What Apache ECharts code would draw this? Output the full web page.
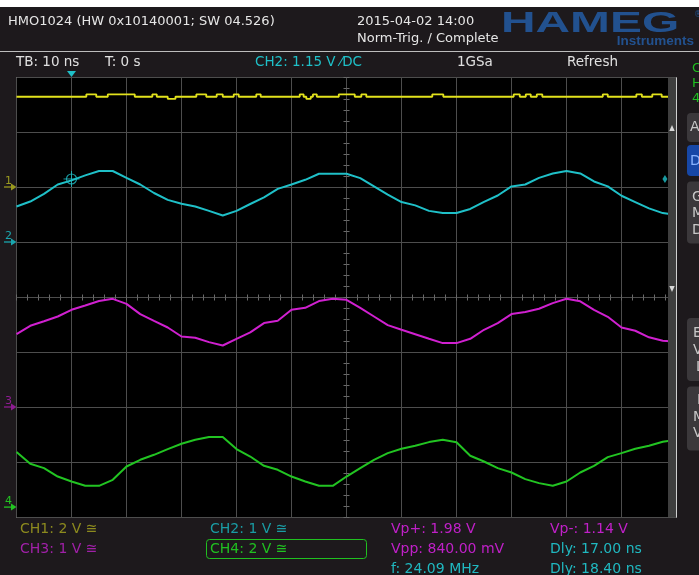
<!DOCTYPE html>
<html><head><meta charset="utf-8">
<script src="https://cdn.jsdelivr.net/npm/echarts@6.0.0/dist/echarts.min.js"></script>
<style>html,body{margin:0;padding:0;background:#1d191c;}#c{width:699px;height:575px;}</style>
</head><body><div id="c"></div><script>
// ---- data (x in ns, 10 ns/div; y in screen divisions) ----
const timeNs = [-60,-57.5,-55,-52.5,-50,-47.5,-45,-42.5,-40,-37.5,-35,-32.5,-30,-27.5,-25,-22.5,-20,-17.5,-15,-12.5,-10,-7.5,-5,-2.5,0,2.5,5,7.5,10,12.5,15,17.5,20,22.5,25,27.5,30,32.5,35,37.5,40,42.5,45,47.5,50,52.5,55,57.5,60];
const ch2 = [1.655,1.745,1.885,2.055,2.13,2.22,2.30,2.30,2.175,2.055,1.90,1.775,1.705,1.655,1.575,1.49,1.575,1.70,1.82,1.975,2.055,2.14,2.25,2.25,2.25,2.17,2.02,1.87,1.735,1.675,1.575,1.535,1.535,1.61,1.74,1.855,2.02,2.055,2.175,2.255,2.30,2.255,2.11,2.02,1.85,1.735,1.62,1.535,1.50];
const ch3 = [-0.665,-0.515,-0.433,-0.345,-0.224,-0.145,-0.065,-0.024,-0.115,-0.302,-0.424,-0.545,-0.709,-0.733,-0.811,-0.873,-0.751,-0.633,-0.465,-0.424,-0.224,-0.187,-0.065,-0.024,-0.042,-0.187,-0.345,-0.502,-0.587,-0.669,-0.751,-0.829,-0.829,-0.751,-0.587,-0.465,-0.302,-0.265,-0.205,-0.102,-0.024,-0.069,-0.224,-0.351,-0.545,-0.605,-0.724,-0.787,-0.805];
const ch4 = [-2.811,-3.024,-3.102,-3.255,-3.345,-3.424,-3.424,-3.315,-3.073,-2.951,-2.860,-2.756,-2.660,-2.587,-2.538,-2.538,-2.756,-2.891,-3.060,-3.133,-3.255,-3.345,-3.424,-3.424,-3.255,-3.102,-2.951,-2.829,-2.751,-2.696,-2.629,-2.587,-2.633,-2.878,-2.982,-3.102,-3.182,-3.302,-3.375,-3.424,-3.345,-3.182,-3.060,-2.902,-2.829,-2.751,-2.696,-2.624,-2.587];
// CH1 is a nearly flat trace: level changes at these times
const ch1T = [-60,-47.3,-45.5,-43.4,-38.5,-35.3,-34.5,-32.5,-31.1,-27.3,-25.5,-23.6,-22.5,-20.5,-19.6,-16.4,-15.6,-8.5,-7.8,-7.3,-6.5,-6.1,-5.4,-1.4,1.5,2.7,3.6,15.6,17.6,30.4,31.5,32.6,33.5,34.6,35.6,46.6,47.5,52.7,53.7,55.6,57.3,60];
const ch1V = [3.65,3.695,3.65,3.695,3.65,3.695,3.65,3.61,3.65,3.695,3.65,3.695,3.65,3.695,3.65,3.695,3.65,3.695,3.65,3.61,3.65,3.695,3.65,3.695,3.65,3.695,3.65,3.695,3.65,3.695,3.65,3.695,3.65,3.695,3.65,3.695,3.65,3.695,3.65,3.695,3.65,3.65];
const channelOffsets = [2, 1, -2, -3.82];
const channelNames = ['1','2','3','4'];
const cursorT = -50, cursorV = 2.155, rightMarkerT = 57.9, triggerT = -50;

const headerTexts = ['HMO1024 (HW 0x10140001; SW 04.526)', '2015-04-02 14:00', 'Norm-Trig. / Complete'];
const statusTexts = ['TB: 10 ns', 'T: 0 s', 'CH2: 1.15 V \u2044DC', '1GSa', 'Refresh'];
const chanTexts = ['CH1: 2 V \u2245', 'CH2: 1 V \u2245', 'CH3: 1 V \u2245', 'CH4: 2 V \u2245'];
const measTexts = ['Vp+: 1.98 V', 'Vp-: 1.14 V', 'Vpp: 840.00 mV', 'Dly: 17.00 ns', 'f: 24.09 MHz', 'Dly: 18.40 ns'];

const C1 = '#e2e21c', C2 = '#1fc0c8', C3 = '#d020d0', C4 = '#22c422';
const labelColors = ['#8c8a1e', '#1a9ca4', '#a020a8', '#20c020'];
const tickColor = '#6a6a6a';
const FONT = '"DejaVu Sans", sans-serif';

const chart = echarts.init(document.getElementById('c'));
function tickAxis(dim, inside) {
  return {
    type: 'value', min: -60, max: 60, interval: 10,
    ...(dim === 'y' ? {min: -4, max: 4, interval: 1} : {}),
    axisLine: {show: true, onZero: true, onZeroAxisIndex: 0, lineStyle: {color: '#4d4d4d', width: 1}},
    axisTick: {show: true, inside: inside, length: 3, lineStyle: {color: tickColor}},
    minorTick: {show: true, splitNumber: 5, length: 3, lineStyle: {color: tickColor}},
    axisLabel: {show: false}, splitLine: {show: false}
  };
}
const mainX = {type: 'value', min: -60, max: 60, interval: 10, axisLine: {show: false}, axisTick: {show: false}, axisLabel: {show: false}, splitLine: {show: true, lineStyle: {color: '#4d4d4d', width: 1}}};
const mainY = {type: 'value', min: -4, max: 4, interval: 1, axisLine: {show: false}, axisTick: {show: false}, axisLabel: {show: false}, splitLine: {show: true, lineStyle: {color: '#4d4d4d', width: 1}}};

chart.setOption({
  animation: false,
  backgroundColor: '#1d191c',
  grid: {left: 16.5, top: 77.5, width: 660, height: 440, show: true, backgroundColor: '#000', borderColor: '#d0d0d0', borderWidth: 1},
  xAxis: [mainX, tickAxis('x', true), tickAxis('x', false)],
  yAxis: [mainY, tickAxis('y', true), tickAxis('y', false)],
  series: [
    {type: 'line', data: ch1T.map((t, i) => [t, ch1V[i]]), step: 'end', symbol: 'none', lineStyle: {color: C1, width: 1.8}, z: 5},
    {type: 'line', data: timeNs.map((t, i) => [t, ch2[i]]), symbol: 'none', lineStyle: {color: C2, width: 2}, z: 5},
    {type: 'line', data: timeNs.map((t, i) => [t, ch3[i]]), symbol: 'none', lineStyle: {color: C3, width: 2}, z: 5},
    {type: 'line', data: timeNs.map((t, i) => [t, ch4[i]]), symbol: 'none', lineStyle: {color: C4, width: 2}, z: 5},
    {type: 'scatter', data: [[cursorT, cursorV]], symbol: 'circle', symbolSize: 10, itemStyle: {color: 'rgba(0,0,0,0)', borderColor: C2, borderWidth: 1.2}, z: 6, silent: true},
    {type: 'scatter', data: [[cursorT, cursorV]], symbol: 'path://M8,0L8,16M0,8L16,8', symbolSize: 16, itemStyle: {color: 'rgba(0,0,0,0)', borderColor: C2, borderWidth: 1}, z: 6, silent: true},
    {type: 'scatter', data: [[rightMarkerT, cursorV]], symbol: 'diamond', symbolSize: [5, 8], itemStyle: {color: C2}, z: 6, silent: true}
  ]
});

function px(t, v) { return chart.convertToPixel({xAxisIndex: 0, yAxisIndex: 0}, [t, v]); }
function txt(x, y, s, fill, size, extra) {
  return Object.assign({type: 'text', x: x, y: y, z: 50, style: {text: s, fill: fill, font: size + 'px ' + FONT, verticalAlign: 'middle'}}, extra || {});
}
const g = [];
g.push({type: 'rect', z: 40, shape: {x: 0, y: 0, width: 699, height: 7}, style: {fill: '#ffffff'}});
g.push({type: 'line', z: 40, shape: {x1: 0, y1: 51.5, x2: 699, y2: 51.5}, style: {stroke: '#bdbdbd', lineWidth: 1}});
g.push(txt(8, 21.5, headerTexts[0], '#e6e6e6', 13));
g.push(txt(357, 21.5, headerTexts[1], '#e6e6e6', 13));
g.push(txt(357, 39, headerTexts[2], '#e6e6e6', 13));
// logo
g.push({type: 'text', x: 501, y: 24, z: 50, scaleX: 1.65, style: {text: 'HAMEG', fill: '#22518f', font: 'bold 29px "Liberation Sans", sans-serif', verticalAlign: 'middle'}});
g.push({type: 'text', x: 694, y: 41.5, z: 50, style: {text: 'Instruments', fill: '#22518f', font: 'bold 13.5px "Liberation Sans", sans-serif', verticalAlign: 'middle', align: 'right'}});
g.push({type: 'text', x: 694, y: 15, z: 50, style: {text: '\u00ae', fill: '#22518f', font: '8px ' + FONT, verticalAlign: 'middle'}});
// status row
const statusX = [16, 105, 255, 457, 567];
statusTexts.forEach((s, i) => g.push(txt(statusX[i], 62.5, s, i === 2 ? C2 : '#e0e0e0', 13.5)));
// right edge partial panel
g.push(txt(692, 69, 'C', '#20c020', 13));
g.push(txt(692, 84, 'H', '#20c020', 13));
g.push(txt(692, 99, '4', '#20c020', 13));
const btns = [[113, 29, '#3b383b'], [145, 31, '#1747a6'], [181.5, 62, '#3b383b'], [318, 63, '#3b383b'], [386.5, 64, '#3b383b']];
btns.forEach(b => g.push({type: 'rect', z: 40, shape: {x: 687, y: b[0], width: 30, height: b[1], r: 4}, style: {fill: b[2]}}));
const btnLetters = [['A', 690, 127, '#c8c8c8'], ['D', 690, 161, '#8ab4ff'], ['G', 692, 197, '#c8c8c8'], ['M', 692, 213, '#c8c8c8'], ['D', 692, 230, '#c8c8c8'],
  ['E', 693, 333, '#c8c8c8'], ['V', 693, 350, '#c8c8c8'], ['L', 696, 367, '#c8c8c8'], ['I', 697, 400, '#c8c8c8'], ['M', 693, 417, '#c8c8c8'], ['V', 693, 433, '#c8c8c8']];
btnLetters.forEach(l => g.push(txt(l[1], l[2], l[0], l[3], 14)));
// scroll bar over the right edge of the screen
g.push({type: 'rect', z: 45, shape: {x: 668, y: 78, width: 8.5, height: 439}, style: {fill: '#3e3e3e'}});
g.push({type: 'polygon', z: 46, shape: {points: [[669.3, 131], [674.7, 131], [672, 125]]}, style: {fill: '#d8d8d8'}});
g.push({type: 'polygon', z: 46, shape: {points: [[669.3, 286], [674.7, 286], [672, 292]]}, style: {fill: '#d8d8d8'}});
g.push({type: 'line', z: 46, shape: {x1: 676.5, y1: 77.5, x2: 676.5, y2: 517.5}, style: {stroke: '#d0d0d0', lineWidth: 1}});
// trigger position marker
const tp = px(triggerT, 4);
g.push({type: 'polygon', z: 46, shape: {points: [[tp[0] - 4.5, 71], [tp[0] + 4.5, 71], [tp[0], 77]]}, style: {fill: C2}});
// channel ground markers
channelOffsets.forEach((off, i) => {
  const y = px(-60, off)[1];
  const col = i === 0 ? '#9a9a20' : (i === 1 ? '#1aa6ae' : (i === 2 ? '#8e1c92' : '#22c422'));
  g.push(txt(5, y - 6.5, channelNames[i], col, 11));
  g.push({type: 'line', z: 46, shape: {x1: 4, y1: y - 0.5, x2: 12, y2: y - 0.5}, style: {stroke: col, lineWidth: 1.3}});
  g.push({type: 'polygon', z: 46, shape: {points: [[11, y - 4], [16.5, y - 0.5], [11, y + 3]]}, style: {fill: col}});
});
// bottom channel labels and measurements
g.push(txt(20, 529.5, chanTexts[0], labelColors[0], 14));
g.push(txt(210, 529.5, chanTexts[1], labelColors[1], 14));
g.push(txt(20, 549.5, chanTexts[2], labelColors[2], 14));
g.push(txt(210, 549.5, chanTexts[3], labelColors[3], 14));
g.push({type: 'rect', z: 40, shape: {x: 206.5, y: 539.5, width: 160, height: 19, r: 3}, style: {fill: 'none', stroke: '#20c020', lineWidth: 1}});
const measPos = [[391, 529.5, '#c020c8'], [550, 529.5, '#c020c8'], [391, 549.5, '#c020c8'], [550, 549.5, '#20b8c0'], [391, 569.5, '#20b8c0'], [550, 569.5, '#20b8c0']];
measTexts.forEach((s, i) => g.push(txt(measPos[i][0], measPos[i][1], s, measPos[i][2], 14)));
chart.setOption({graphic: g});
</script></body></html>
